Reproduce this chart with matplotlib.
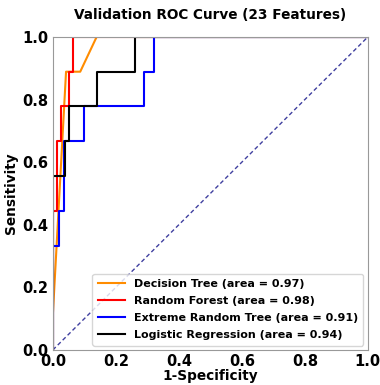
import matplotlib
matplotlib.use("Agg")
import matplotlib.pyplot as plt

title = "Validation ROC Curve (23 Features)"
xlabel = "1-Specificity"
ylabel = "Sensitivity"

dt_fpr = [0.0, 0.0, 0.042, 0.087, 0.139, 1.0]
dt_tpr = [0.0, 0.111, 0.889, 0.889, 1.0, 1.0]

rf_fpr = [0.0, 0.0, 0.013, 0.013, 0.026, 0.026, 0.051, 0.051, 0.064, 0.064, 1.0]
rf_tpr = [0.0, 0.444, 0.444, 0.667, 0.667, 0.778, 0.778, 0.889, 0.889, 1.0, 1.0]

et_fpr = [0.0, 0.0, 0.020, 0.020, 0.037, 0.037, 0.100, 0.100, 0.290, 0.290, 0.320, 0.320, 1.0]
et_tpr = [0.0, 0.333, 0.333, 0.444, 0.444, 0.667, 0.667, 0.778, 0.778, 0.889, 0.889, 1.0, 1.0]

lr_fpr = [0.0, 0.0, 0.040, 0.040, 0.050, 0.050, 0.139, 0.139, 0.261, 0.261, 1.0]
lr_tpr = [0.0, 0.556, 0.556, 0.667, 0.667, 0.778, 0.778, 0.889, 0.889, 1.0, 1.0]

labels = ["Decision Tree (area = 0.97)", "Random Forest (area = 0.98)",
          "Extreme Random Tree (area = 0.91)", "Logistic Regression (area = 0.94)"]
colors = ["darkorange", "red", "blue", "black"]

fig = plt.figure(figsize=(3.8, 3.85), dpi=100)
ax = fig.add_axes([0.139, 0.091, 0.829, 0.813])

for (fx, ty), lab, c in zip([(dt_fpr, dt_tpr), (rf_fpr, rf_tpr), (et_fpr, et_tpr), (lr_fpr, lr_tpr)], labels, colors):
    ax.plot(fx, ty, color=c, lw=1.5, label=lab)
ax.plot([0, 1], [0, 1], color="navy", lw=1, linestyle="--", alpha=0.75, dashes=(3, 2))

ax.set_xlim(0, 1)
ax.set_ylim(0, 1)
ax.set_xticks([0, 0.2, 0.4, 0.6, 0.8, 1.0])
ax.set_yticks([0, 0.2, 0.4, 0.6, 0.8, 1.0])
ax.tick_params(length=0, labelsize=10.5, pad=3)
for t in ax.get_xticklabels() + ax.get_yticklabels():
    t.set_fontweight("bold")
for s in ax.spines.values():
    s.set_color("#999999")
ax.set_xlabel(xlabel, fontsize=9.8, fontweight="bold", labelpad=0)
ax.set_ylabel(ylabel, fontsize=9.8, fontweight="bold", labelpad=3)
ax.set_title(title, fontsize=9.8, fontweight="bold", pad=13)
leg = ax.legend(loc="lower right", prop={"weight": "bold", "size": 8}, handlelength=2.4,
                labelspacing=0.62, borderpad=0.5, borderaxespad=0.4)
leg.get_frame().set_edgecolor("#cccccc")

fig.savefig("out.png", dpi=100)
